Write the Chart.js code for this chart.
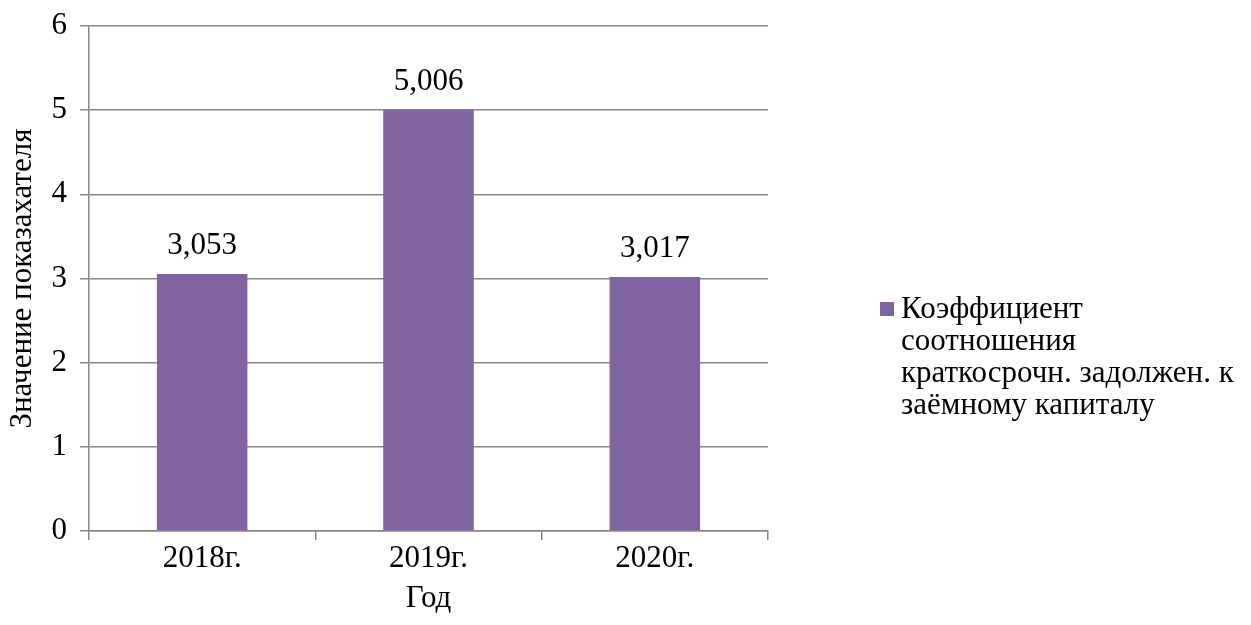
<!DOCTYPE html>
<html>
<head>
<meta charset="utf-8">
<script src="https://cdn.jsdelivr.net/npm/chart.js@4/dist/chart.umd.min.js"></script>
<style>
  html, body { margin: 0; padding: 0; background: #fff; }
  #wrap { width: 1251px; height: 625px; }
</style>
</head>
<body>
<div id="wrap"><canvas id="ratio" width="1251" height="625"></canvas></div>
<script>
// ratio of short-term debt to borrowed capital, by year

const years = ['2018г.', '2019г.', '2020г.'];
const ratio = [3.053, 5.006, 3.017];
const seriesName = ['Коэффициент', 'соотношения', 'краткосрочн. задолжен. к', 'заёмному капиталу'];

const barColor = '#8064A2';
const lineColor = '#888888';
const serif = 'Liberation Serif';
const fontPx = 31;

// values over the bars, comma as decimal mark
const valueLabels = {
    id: 'valueLabels',
    afterDatasetsDraw(chart) {
        const c = chart.ctx;
        const meta = chart.getDatasetMeta(0);
        c.save();
        c.font = fontPx + 'px "' + serif + '"';
        c.fillStyle = '#000';
        c.textAlign = 'center';
        c.textBaseline = 'alphabetic';
        meta.data.forEach(function (bar, i) {
            const txt = ratio[i].toFixed(3).replace('.', ',');
            c.fillText(txt, bar.x, bar.y - 20);
        });
        c.restore();
    }
};

// legend on the right, wrapped over four lines
const sideLegend = {
    id: 'sideLegend',
    afterDraw(chart) {
        const c = chart.ctx;
        c.save();
        c.fillStyle = barColor;
        c.fillRect(880, 302, 14, 14);
        c.fillStyle = '#000';
        c.font = fontPx + 'px "' + serif + '"';
        c.textAlign = 'left';
        c.textBaseline = 'middle';
        for (let i = 0; i < seriesName.length; i++) {
            c.fillText(seriesName[i], 901, 310 + i * 32);
        }
        c.restore();
    }
};

const graph = new Chart(document.getElementById('ratio'), {
    type: 'bar',
    data: {
        labels: years,
        datasets: [{
            label: seriesName.join(' '),
            data: ratio,
            backgroundColor: barColor,
            borderWidth: 0,
            barPercentage: 0.4,
            categoryPercentage: 1.0
        }]
    },
    options: {
        responsive: false,
        animation: false,
        layout: { padding: { left: 0, top: 26, right: 483, bottom: 0 } },
        plugins: {
            legend: { display: false },
            tooltip: { enabled: false }
        },
        scales: {
            x: {
                offset: true,
                afterFit(scale) { scale.height = 94; },
                grid: {
                    offset: true,
                    drawOnChartArea: false,
                    drawTicks: true,
                    tickLength: 9,
                    color: lineColor,
                    lineWidth: 1.5
                },
                border: { display: true, color: lineColor, width: 1.5 },
                ticks: {
                    color: '#000',
                    font: { family: serif, size: fontPx },
                    padding: 0
                },
                title: {
                    display: true,
                    text: 'Год',
                    color: '#000',
                    font: { family: serif, size: fontPx },
                    padding: { top: 0, bottom: 8 }
                }
            },
            y: {
                min: 0,
                max: 6,
                afterFit(scale) {
                    scale.width = 89;
                    scale.paddingTop = 0;
                    scale.paddingBottom = 0;
                },
                ticks: {
                    stepSize: 1,
                    color: '#000',
                    font: { family: serif, size: fontPx },
                    padding: 13
                },
                grid: {
                    color: lineColor,
                    lineWidth: 1.5,
                    drawTicks: true,
                    tickLength: 9
                },
                border: { display: true, color: lineColor, width: 1.5 },
                title: {
                    display: true,
                    text: 'Значение показахателя',
                    color: '#000',
                    font: { family: serif, size: fontPx },
                    padding: { top: 4, bottom: 0 }
                }
            }
        }
    },
    plugins: [valueLabels, sideLegend]
});
</script>
</body>
</html>
